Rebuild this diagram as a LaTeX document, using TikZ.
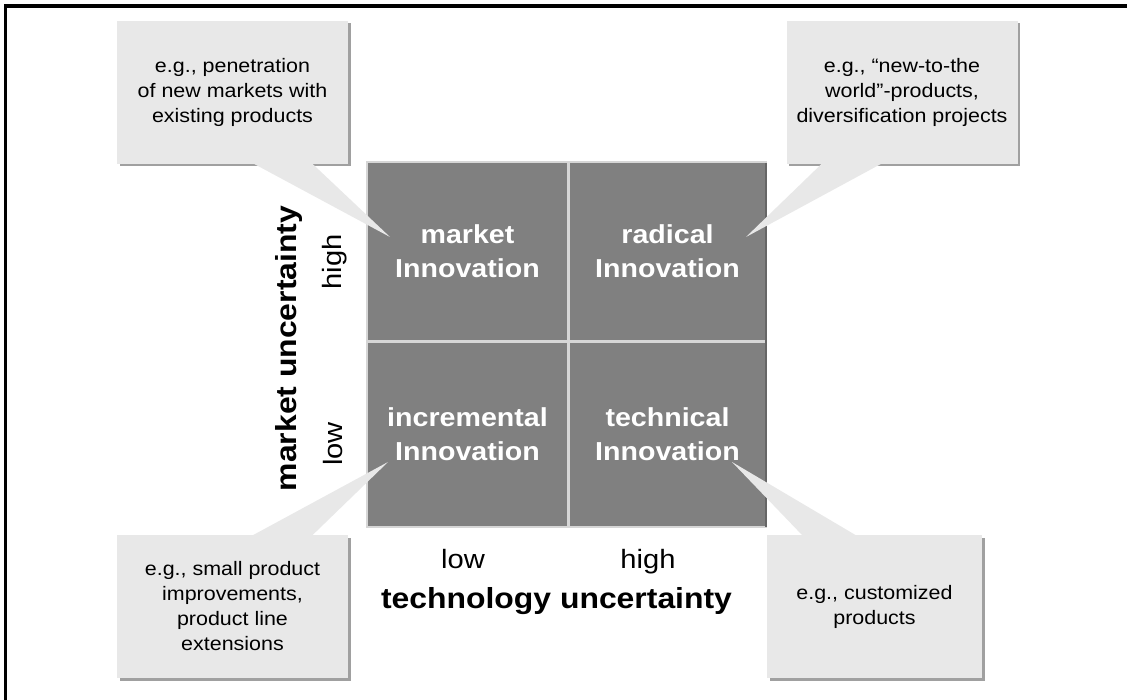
\documentclass[tikz,border=0pt]{standalone}
\usepackage{fontspec}
\setmainfont{Liberation Sans}[FakeStretch=1.1]
\usetikzlibrary{shadows,backgrounds,calc}

\definecolor{cellgray}{RGB}{128,128,128}
\definecolor{edgegray}{RGB}{214,214,214}
\definecolor{notegray}{RGB}{232,232,232}
\definecolor{shadowgray}{RGB}{160,160,160}

\begin{document}
\begin{tikzpicture}[x=1pt,y=-1pt]
  \tikzset{
    cell/.style={fill=cellgray, inner sep=0pt, text=white, align=center,
      font=\fontsize{26}{34}\selectfont\bfseries},
    note/.style={fill=notegray, minimum width=231pt, minimum height=143pt,
      inner sep=0pt, align=center, font=\fontsize{19.5}{25}\selectfont,
      drop shadow={shadow xshift=2.5pt, shadow yshift=-2.5pt, fill=shadowgray, opacity=1}},
    axis/.style={font=\fontsize{29}{34}\selectfont\bfseries},
    level/.style={font=\fontsize{26.5}{30}\selectfont},
  }
  \fill[white] (0,0) rectangle (1127,700);
  \useasboundingbox (0,0) rectangle (1127,700);
  %\draw[step=50,gray,very thin] (0,0) grid (1127,700);

  \draw[line width=3.5pt] (5.5,700) -- (5.5,6) -- (1127,6);

  % the four fields
  \fill[edgegray] (366,161) rectangle (767,528);
  \node[cell, minimum width=199pt, minimum height=177pt] (MKT) at (467.5,251.5) {market\\Innovation};
  \node[cell, minimum width=195pt, minimum height=177pt] (RAD) at (667.5,251.5) {radical\\Innovation};
  \node[cell, minimum width=199pt, minimum height=183pt] (INC) at (467.5,434.5) {incremental\\Innovation};
  \node[cell, minimum width=195pt, minimum height=183pt] (TEC) at (667.5,434.5) {technical\\Innovation};
  \draw[line width=2pt, black!60] (766,163) -- (766,527);

  % axes
  \node[axis, rotate=90] (MU) at (288.5,348.5) {market uncertainty};
  \node[level, rotate=90, text height=0.72em, text depth=0.21em] (MH) at (339,262) {high};
  \node[level, rotate=90, text height=0.72em, text depth=0.21em] (ML) at (340,444) {low};
  \node[level, anchor=base] (TL) at (463,568) {low};
  \node[level, anchor=base] (TH) at (648,568) {high};
  \node[axis, anchor=base] (TU) at (556.5,608) {technology uncertainty};

  % examples
  \node[note] (N1) at (232.5,92.5) {e.g., penetration\\of new markets with\\existing products};
  \node[note] (N2) at (902,92.5) {e.g., “new-to-the\\world”-products,\\diversification projects};
  \node[note] (N3) at (232.5,606.5) {e.g., small product\\improvements,\\product line\\extensions};
  \node[note, minimum width=215pt] (N4) at (874.5,606.5) {e.g., customized\\products};

  \coordinate (T1) at (390,237);
  \coordinate (T2) at (746,237);
  \coordinate (T3) at (388,462);
  \coordinate (T4) at (732,462);
  \coordinate (B1a) at ($(N1.south west)+(136,-1)$);
  \coordinate (B1b) at ($(N1.south west)+(195,-1)$);
  \coordinate (B2a) at ($(N2.south west)+(36,-1)$);
  \coordinate (B2b) at ($(N2.south west)+(96,-1)$);
  \coordinate (B3a) at ($(N3.north west)+(135,1)$);
  \coordinate (B3b) at ($(N3.north west)+(195,1)$);
  \coordinate (B4a) at ($(N4.north west)+(36,1)$);
  \coordinate (B4b) at ($(N4.north west)+(90,1)$);

  \begin{pgfonlayer}{background}
    \fill[shadowgray] ([xshift=2.5pt,yshift=-2.5pt]B1a) -- ([xshift=2.5pt,yshift=-2.5pt]T1) -- ([xshift=2.5pt,yshift=-2.5pt]B1b) -- cycle;
    \fill[shadowgray] ([xshift=2.5pt,yshift=-2.5pt]B2a) -- ([xshift=2.5pt,yshift=-2.5pt]T2) -- ([xshift=2.5pt,yshift=-2.5pt]B2b) -- cycle;
    \fill[shadowgray] ([xshift=2.5pt,yshift=-2.5pt]B3a) -- ([xshift=2.5pt,yshift=-2.5pt]T3) -- ([xshift=2.5pt,yshift=-2.5pt]B3b) -- cycle;
    \fill[shadowgray] ([xshift=2.5pt,yshift=-2.5pt]B4a) -- ([xshift=2.5pt,yshift=-2.5pt]T4) -- ([xshift=2.5pt,yshift=-2.5pt]B4b) -- cycle;
  \end{pgfonlayer}
  \fill[notegray] (B1a) -- (T1) -- (B1b) -- cycle;
  \fill[notegray] (B2a) -- (T2) -- (B2b) -- cycle;
  \fill[notegray] (B3a) -- (T3) -- (B3b) -- cycle;
  \fill[notegray] (B4a) -- (T4) -- (B4b) -- cycle;
\end{tikzpicture}
\end{document}
